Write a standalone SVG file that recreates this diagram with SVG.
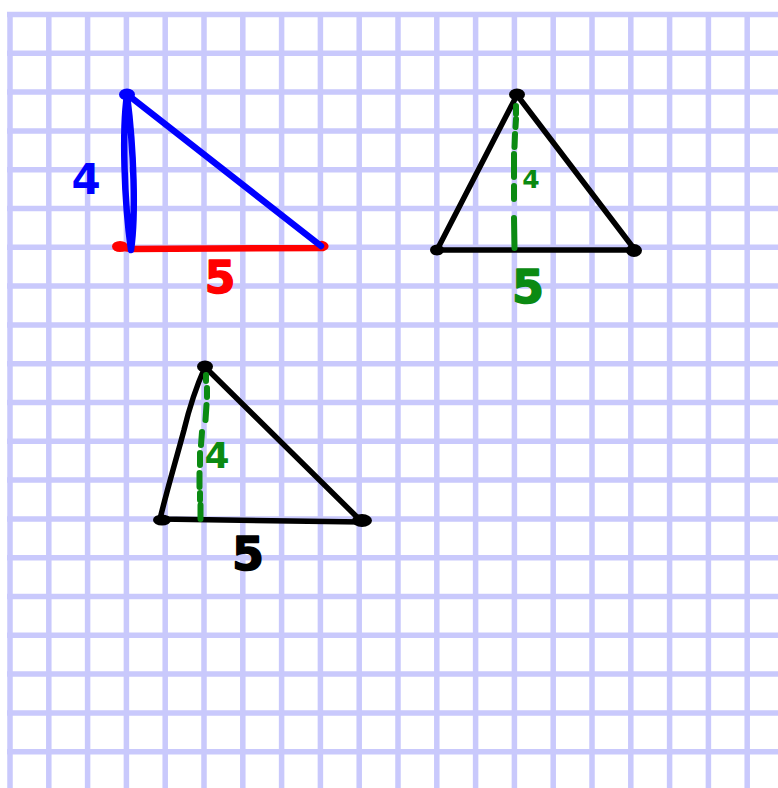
<svg xmlns="http://www.w3.org/2000/svg" width="778" height="788" viewBox="0 0 778 788">
<style>
.grid{stroke:#c9c9fc;stroke-width:5.5;fill:none}
.ink{fill:none;stroke-linecap:round;stroke-linejoin:round}
.blk{stroke:#000;stroke-width:5.5}
.grn{stroke:#0b8a12;stroke-width:6}
.num{font-family:"DejaVu Sans",sans-serif;font-weight:bold;text-anchor:middle;stroke-linejoin:round}
</style>
<rect width="778" height="788" fill="#fff"/>
<g id="grid">
<path class="grid" d="M7,14.5H778M7,53.3H778M7,92.1H778M7,130.9H778M7,169.7H778M7,208.5H778M7,247.3H778M7,286.1H778M7,324.9H778M7,363.7H778M7,402.5H778M7,441.3H778M7,480.1H778M7,518.9H778M7,557.7H778M7,596.5H778M7,635.3H778M7,674.1H778M7,712.9H778M7,751.7H778"/>
<path class="grid" d="M10,12V788M48.8,12V788M87.6,12V788M126.4,12V788M165.2,12V788M204,12V788M242.8,12V788M281.6,12V788M320.4,12V788M359.2,12V788M398,12V788M436.8,12V788M475.6,12V788M514.4,12V788M553.2,12V788M592,12V788M630.8,12V788M669.6,12V788M708.4,12V788M747.2,12V788"/>
</g>
<g id="triangle1">
<path class="ink" stroke="#ff0000" stroke-width="6.5" d="M117,247 L131,249 L323,248 Q328,246 322,244"/>
<ellipse cx="120" cy="246.5" rx="8" ry="5.5" fill="#ff0000"/>
<path class="ink" stroke="#0000ff" stroke-width="6.5" d="M127,95 C122,130 124,200 131,250 C136,215 134,150 127,95 Z"/>
<path class="ink" stroke="#0000ff" stroke-width="6.5" d="M128,95 L321,246"/>
<ellipse cx="127" cy="94.5" rx="8" ry="6" fill="#0000ff"/>
<text class="num" x="86" y="194" font-size="42" fill="#0000ff">4</text>
<text class="num" x="220" y="293" font-size="44" fill="#ff0000" stroke="#ff0000" stroke-width="1.5">5</text>
</g>
<g id="triangle2">
<path class="ink blk" d="M437,250 L517,95 L635,250 Z"/>
<ellipse cx="517" cy="94.5" rx="8" ry="6"/>
<ellipse cx="437" cy="250" rx="7" ry="5.5"/>
<ellipse cx="634" cy="250.5" rx="8" ry="6.5"/>
<path class="ink grn" d="M516,106 L516,114 M516,119 L515.5,127 M515,134 L514.5,147 M514,154 L514,177 M514,186 L514,199 M514,218 L514.5,248"/>
<text class="num" x="531" y="188" font-size="25" fill="#0b8a12">4</text>
<text class="num" x="528" y="303" font-size="46" fill="#0b8a12" stroke="#0b8a12" stroke-width="1.5">5</text>
</g>
<g id="triangle3">
<path class="ink blk" d="M205,367 C197,385 190,405 184,430 C176,460 167,490 160,519 L362,522 Z"/>
<ellipse cx="205" cy="366.5" rx="8" ry="6"/>
<ellipse cx="162" cy="520" rx="9" ry="5.5"/>
<ellipse cx="362" cy="520.5" rx="10" ry="6.5"/>
<path class="ink grn" d="M206,375 L206,381 M207,388 L207,397 M206.5,405 L205.5,420 M202,432 L201,445 M200,453 L200,465 M199.5,473 L199.5,487 M200,493 L200,500 M200.5,505 L200.5,519"/>
<text class="num" x="217" y="468" font-size="36" fill="#0b8a12">4</text>
<text class="num" x="248" y="570" font-size="46" fill="#000" stroke="#000" stroke-width="1.5">5</text>
</g>
</svg>
